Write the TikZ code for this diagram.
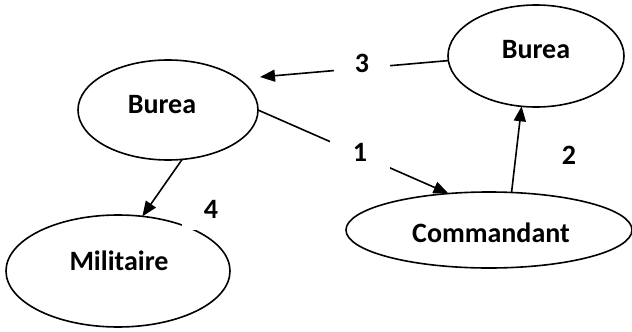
\documentclass[tikz,border=0pt]{standalone}
\usepackage{fontspec}
\setmainfont{Carlito}
\usetikzlibrary{arrows.meta,shapes.geometric}
\tikzset{
  ell/.style={draw, ellipse, line width=1.6pt, inner sep=0pt, outer sep=0pt},
  office/.style={font=\fontsize{28}{32}\selectfont\bfseries, inner sep=0pt},
  num/.style={font=\fontsize{28}{32}\selectfont\bfseries, inner sep=0pt},
  numbox/.style={num, fill=white},
  link/.style={line width=1.6pt, -{Triangle[length=15pt,width=12pt]}}
}
\begin{document}
\begin{tikzpicture}[x=1pt,y=-1pt]
\useasboundingbox (0,0) rectangle (632,332);

% the four offices
\node[ell, minimum width=180pt, minimum height=100pt] (bl) at (168,110) {};
\node[ell, minimum width=176pt, minimum height=102pt] (br) at (536,56) {};
\node[ell, minimum width=286pt, minimum height=76pt]  (cm) at (489,230) {};
\node[ell, minimum width=224pt, minimum height=112pt] (mi) at (118,271) {};

\node[office] (bl-t) at (162,105) {Burea};
\node[office] (br-t) at (536,50)  {Burea};
\node[office] (cm-t) at (491,233) {Commandant};
\node[office] (mi-t) at (119,261) {Militaire};

% free ends of the arrows that stop short of an office
\coordinate (t3) at (260,77);

% links between offices
\draw[link] (bl.east) -- (cm.138);
\draw[link] (cm.59) -- (br.254);
\draw[link] (br.183) -- (t3);
\draw[link] (bl.286) -- (mi.66);

% step numbers, boxed in white where they cut a line
\node[numbox, minimum width=56pt, minimum height=32pt] (n3) at (362,63) {3};
\node[numbox, minimum width=60pt, minimum height=33pt] (n1) at (360,152) {1};
\node[num] (n2) at (569,155) {2};
\node[numbox, minimum width=58pt, minimum height=42pt] (n4) at (211,209) {4};
\end{tikzpicture}
\end{document}
